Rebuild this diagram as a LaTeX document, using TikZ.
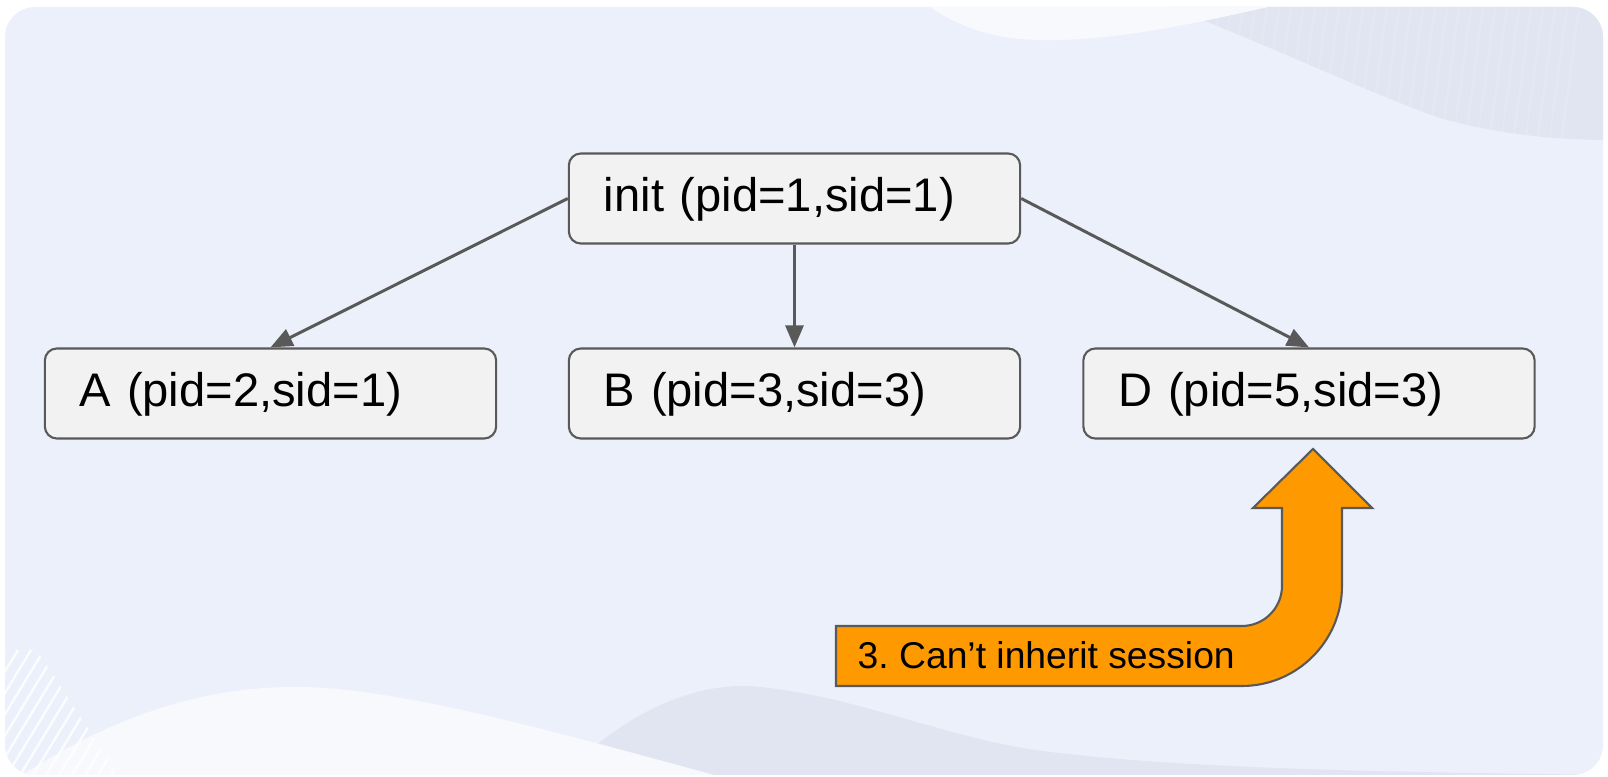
\documentclass[tikz,border=0pt]{standalone}
\usepackage{fontspec}
\setmainfont{Liberation Sans}
\usetikzlibrary{arrows.meta}
\frenchspacing

\definecolor{panelbg}{HTML}{ECF0FB}
\definecolor{wavelight}{HTML}{F8F9FD}
\definecolor{wavedark}{HTML}{E1E5F1}
\definecolor{procfill}{HTML}{F2F2F2}
\definecolor{procline}{HTML}{595959}
\definecolor{noteorange}{HTML}{FF9900}

\tikzset{
  procbox/.style={draw=procline, fill=procfill, line width=0.6pt, rounded corners=0.12cm,
    minimum height=0.9cm, text width=3.81cm, inner xsep=0.35cm, align=left,
    text height=0.76em, text depth=0pt, font=\fontsize{13.4pt}{16pt}\selectfont},
  forkarrow/.style={draw=procline, line width=0.85pt, -{Triangle[length=0.22cm, width=0.18cm]}},
  bentarrow/.style={draw=procline, fill=noteorange, line width=0.6pt},
  notetext/.style={font=\fontsize{10.6pt}{13pt}\selectfont, inner sep=0pt},
  hatchline/.style={white, line width=0.7pt}
}

\begin{document}
\begin{tikzpicture}[x=0.01cm, y=-0.01cm]
    \useasboundingbox (0,0) rectangle (1608,777);
    \fill[white] (0,0) rectangle (1608,777);
    \fill[panelbg, rounded corners=0.3cm] (5,7) rectangle (1603,775);
    \begin{scope}
        \clip[rounded corners=0.3cm] (5,7) rectangle (1603,775);
        % top right swoosh
        \fill[wavedark] (1150,0) .. controls (1260,40) and (1360,90) .. (1440,118)
            .. controls (1500,135) and (1560,140) .. (1610,140) -- (1610,0) -- cycle;
        \begin{scope}
            \clip (1150,0) .. controls (1260,40) and (1360,90) .. (1440,118)
                .. controls (1500,135) and (1560,140) .. (1610,140) -- (1610,0) -- cycle;
            \foreach \k in {0,...,40}
                \draw[white, opacity=0.15, line width=0.5pt] (1100+\k*12,0) -- ++(-20,150);
        \end{scope}
        \fill[wavelight] (920,0) .. controls (960,30) and (1000,42) .. (1060,40)
            .. controls (1140,38) and (1230,15) .. (1300,0) -- cycle;
        % bottom waves
        \fill[wavedark] (550,790) .. controls (620,710) and (700,680) .. (760,687)
            .. controls (860,697) and (950,740) .. (1050,752)
            .. controls (1200,770) and (1400,772) .. (1610,775) -- (1610,790) -- cycle;
        \fill[wavelight] (0,790) .. controls (100,720) and (200,685) .. (303,687)
            .. controls (420,690) and (600,745) .. (770,790) -- cycle;
        \begin{scope}
            \clip (0,640) -- (30,640) -- (120,777) -- (0,777) -- cycle;
            \foreach \k in {0,...,16}
                \draw[hatchline, opacity=0.8] (\k*13-80,790) -- ++(85,-140);
        \end{scope}
    \end{scope}

    \node[procbox] (init) at (794.5,198.5) {init (pid=1,sid=1)};
    \node[procbox] (A) at (270.5,393.5) {A (pid=2,sid=1)};
    \node[procbox] (B) at (794.5,393.5) {B (pid=3,sid=3)};
    \node[procbox] (D) at (1309,393.5) {D (pid=5,sid=3)};

    \draw[forkarrow] (init.west) -- (A.north);
    \draw[forkarrow] (init.south) -- (B.north);
    \draw[forkarrow] (init.east) -- (D.north);

    \draw[bentarrow] (836,626) -- (1242,626) .. controls (1264,626) and (1282,608) .. (1282,586)
        -- (1282,508) -- (1253,508) -- (1313,449) -- (1372,508) -- (1342,508) -- (1342,586)
        .. controls (1342,641) and (1297,686) .. (1242,686) -- (836,686) -- cycle;
    \node[notetext, anchor=base west] (note) at (857,669) {3. Can’t inherit session};
\end{tikzpicture}
\end{document}
